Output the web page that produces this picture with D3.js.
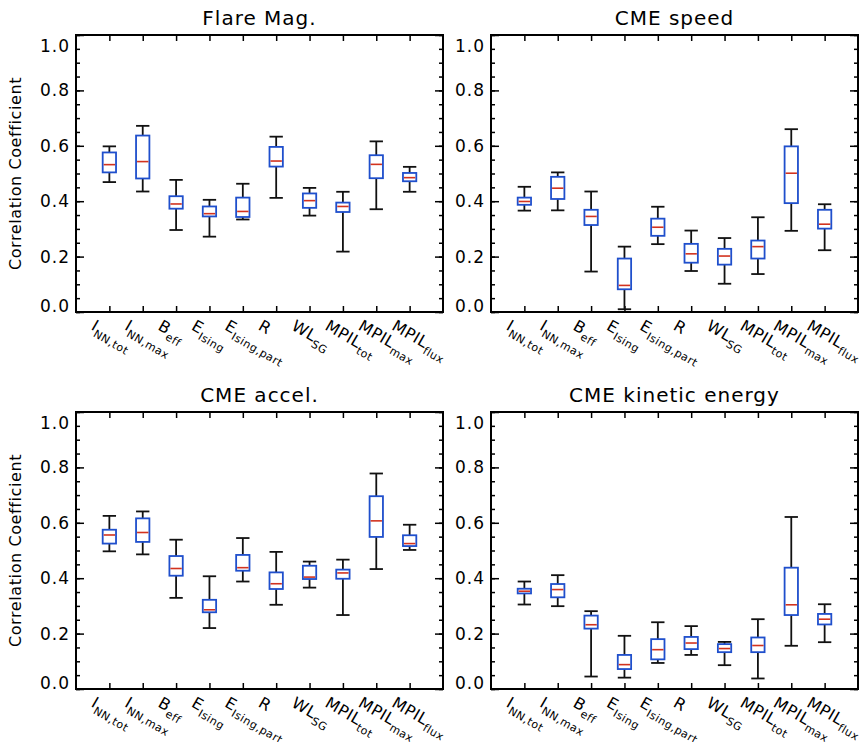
<!DOCTYPE html>
<html>
<head>
<meta charset="utf-8">
<script src="https://cdn.jsdelivr.net/npm/d3@7"></script>
<style>
    html, body { margin: 0; padding: 0; background: #fff; overflow: hidden; }
    svg { display: block; }
    text { font-family: "DejaVu Sans", sans-serif; fill: #000; }
</style>
</head>
<body>
<div id="chart"></div>
<script>
// category labels: main text + subscript
const labelMain = ["I", "I", "B", "E", "E", "R", "WL", "MPIL", "MPIL", "MPIL"];
const labelSub = ["NN,tot", "NN,max", "eff", "Ising", "Ising,part", "", "SG", "tot", "max", "flux"];

// each row: [whisker low, q1, median, q3, whisker high]
const flareMag = [
    [0.469, 0.504, 0.532, 0.576, 0.598],
    [0.435, 0.482, 0.543, 0.637, 0.672],
    [0.296, 0.373, 0.390, 0.418, 0.477],
    [0.272, 0.345, 0.355, 0.381, 0.405],
    [0.334, 0.343, 0.363, 0.413, 0.463],
    [0.412, 0.525, 0.545, 0.596, 0.633],
    [0.348, 0.376, 0.402, 0.428, 0.448],
    [0.218, 0.361, 0.381, 0.395, 0.434],
    [0.371, 0.483, 0.533, 0.566, 0.616],
    [0.434, 0.472, 0.485, 0.502, 0.524]
];
const cmeSpeed = [
    [0.366, 0.387, 0.399, 0.413, 0.452],
    [0.367, 0.408, 0.447, 0.488, 0.504],
    [0.146, 0.314, 0.345, 0.369, 0.435],
    [0.010, 0.082, 0.096, 0.193, 0.236],
    [0.245, 0.275, 0.306, 0.337, 0.380],
    [0.148, 0.178, 0.210, 0.246, 0.294],
    [0.102, 0.171, 0.202, 0.228, 0.267],
    [0.137, 0.193, 0.236, 0.258, 0.342],
    [0.293, 0.393, 0.501, 0.598, 0.660],
    [0.223, 0.301, 0.317, 0.369, 0.389]
];
const cmeAccel = [
    [0.497, 0.525, 0.556, 0.575, 0.625],
    [0.486, 0.531, 0.565, 0.616, 0.641],
    [0.329, 0.409, 0.435, 0.480, 0.539],
    [0.220, 0.277, 0.286, 0.322, 0.407],
    [0.388, 0.427, 0.438, 0.484, 0.545],
    [0.304, 0.361, 0.380, 0.421, 0.495],
    [0.366, 0.397, 0.404, 0.445, 0.460],
    [0.267, 0.398, 0.419, 0.431, 0.467],
    [0.433, 0.549, 0.607, 0.696, 0.778],
    [0.502, 0.516, 0.525, 0.555, 0.593]
];
const cmeKinetic = [
    [0.305, 0.345, 0.353, 0.362, 0.388],
    [0.299, 0.331, 0.359, 0.379, 0.411],
    [0.045, 0.218, 0.232, 0.265, 0.281],
    [0.041, 0.072, 0.088, 0.123, 0.192],
    [0.094, 0.107, 0.142, 0.180, 0.241],
    [0.123, 0.144, 0.166, 0.188, 0.227],
    [0.086, 0.133, 0.146, 0.162, 0.170],
    [0.038, 0.133, 0.157, 0.186, 0.252],
    [0.156, 0.267, 0.304, 0.438, 0.621],
    [0.169, 0.233, 0.252, 0.271, 0.306]
];

const panels = [
    { title: "Flare Mag.", data: flareMag, x: 76, y: 35, yTitle: true },
    { title: "CME speed", data: cmeSpeed, x: 491, y: 35, yTitle: false },
    { title: "CME accel.", data: cmeAccel, x: 76, y: 412, yTitle: true },
    { title: "CME kinetic energy", data: cmeKinetic, x: 491, y: 412, yTitle: false }
];

const majorTicks = [0, 0.2, 0.4, 0.6, 0.8, 1.0];
const minorTicks = d3.range(0, 1.0001, 0.05);

const width = 864;
const height = 742;
const innerWidth = 367;
const innerHeight = 277;
const blue = "#1f4fcc";
const red = "#d2321e";

const svg = d3.select("#chart")
    .append("svg")
    .attr("width", width)
    .attr("height", height)
    .attr("viewBox", `0, 0, ${width}, ${height}`);

// tick marks only, no labels and no domain line
const bareTicks = (a) => {
    a.select(".domain").remove();
    a.selectAll("text").remove();
};

const drawPanel = (p) => {
    const g = svg.append("g")
        .attr("transform", `translate(${p.x}, ${p.y})`);

    const xScale = d3.scaleLinear()
        .domain([0, 11])
        .range([0, innerWidth]);
    const yScale = d3.scaleLinear()
        .domain([0, 1])
        .range([innerHeight, 0]);

    // minor ticks left / right
    g.append("g")
        .call(d3.axisLeft(yScale).tickValues(minorTicks).tickSizeInner(-4).tickSizeOuter(0))
        .call(bareTicks);
    g.append("g")
        .attr("transform", `translate(${innerWidth}, 0)`)
        .call(d3.axisRight(yScale).tickValues(minorTicks).tickSizeInner(-4).tickSizeOuter(0))
        .call(bareTicks);

    // major ticks left with labels
    const leftAxis = g.append("g")
        .attr("class", "axis-yl")
        .call(d3.axisLeft(yScale).tickValues(majorTicks).tickSizeInner(-8).tickSizeOuter(0)
            .tickPadding(6).tickFormat(d3.format(".1f")))
        .call(a => a.select(".domain").remove());
    leftAxis.selectAll("text")
        .style("font-size", "17px")
        .style("letter-spacing", "1px")
        .attr("dy", d => d === 1 ? "0.95em" : d === 0 ? "-0.05em" : "0.32em");

    g.append("g")
        .attr("transform", `translate(${innerWidth}, 0)`)
        .call(d3.axisRight(yScale).tickValues(majorTicks).tickSizeInner(-8).tickSizeOuter(0))
        .call(bareTicks);

    // category ticks top / bottom
    const cats = d3.range(1, 11);
    g.append("g")
        .call(d3.axisTop(xScale).tickValues(cats).tickSizeInner(-6).tickSizeOuter(0))
        .call(bareTicks);
    g.append("g")
        .attr("transform", `translate(0, ${innerHeight})`)
        .call(d3.axisBottom(xScale).tickValues(cats).tickSizeInner(-6).tickSizeOuter(0))
        .call(bareTicks);

    g.selectAll(".tick line")
        .attr("stroke", "#000")
        .attr("stroke-width", 1.5);

    // frame
    g.append("rect")
        .attr("width", innerWidth)
        .attr("height", innerHeight)
        .attr("fill", "none")
        .attr("stroke", "#000")
        .attr("stroke-width", 2);

    // category labels
    const labels = g.append("g")
        .selectAll("text")
        .data(cats)
        .join("text")
        .attr("transform", d => `translate(${xScale(d) - 19}, ${innerHeight + 17}) rotate(30)`)
        .style("font-size", "16px")
        .style("letter-spacing", "0.5px");
    labels.append("tspan")
        .text(d => labelMain[d - 1]);
    labels.filter(d => labelSub[d - 1] !== "")
        .append("tspan")
        .attr("dy", 5)
        .style("font-size", "11px")
        .text(d => labelSub[d - 1]);

    // title
    g.append("text")
        .attr("x", innerWidth / 2)
        .attr("y", -10)
        .attr("text-anchor", "middle")
        .style("font-size", "20px")
        .style("letter-spacing", "1px")
        .text(p.title);

    if (p.yTitle) {
        g.append("text")
            .attr("transform", `translate(-55, ${innerHeight / 2}) rotate(-90)`)
            .attr("text-anchor", "middle")
            .style("font-size", "16px")
            .style("letter-spacing", "0.6px")
            .text("Correlation Coefficient");
    }

    // boxes
    const bw = xScale(0.4) - xScale(0);
    const boxes = g.append("g")
        .selectAll("g")
        .data(p.data)
        .join("g")
        .attr("transform", (d, i) => `translate(${xScale(i + 1)}, 0)`);

    // whiskers
    boxes.append("line")
        .attr("y1", d => yScale(d[4]))
        .attr("y2", d => yScale(d[3]))
        .attr("stroke", "#111")
        .attr("stroke-width", 1.8);
    boxes.append("line")
        .attr("y1", d => yScale(d[1]))
        .attr("y2", d => yScale(d[0]))
        .attr("stroke", "#111")
        .attr("stroke-width", 1.8);
    boxes.append("line")
        .attr("x1", -bw / 2)
        .attr("x2", bw / 2)
        .attr("y1", d => yScale(d[4]))
        .attr("y2", d => yScale(d[4]))
        .attr("stroke", "#111")
        .attr("stroke-width", 1.8);
    boxes.append("line")
        .attr("x1", -bw / 2)
        .attr("x2", bw / 2)
        .attr("y1", d => yScale(d[0]))
        .attr("y2", d => yScale(d[0]))
        .attr("stroke", "#111")
        .attr("stroke-width", 1.8);

    // box
    boxes.append("rect")
        .attr("x", -bw / 2)
        .attr("width", bw)
        .attr("y", d => yScale(d[3]))
        .attr("height", d => yScale(d[1]) - yScale(d[3]))
        .attr("fill", "#fff")
        .attr("stroke", blue)
        .attr("stroke-width", 1.8);

    // median
    boxes.append("line")
        .attr("x1", -bw / 2 + 1)
        .attr("x2", bw / 2 - 1)
        .attr("y1", d => yScale(d[2]))
        .attr("y2", d => yScale(d[2]))
        .attr("stroke", red)
        .attr("stroke-width", 1.6);
};

panels.forEach(drawPanel);
</script>
</body>
</html>
